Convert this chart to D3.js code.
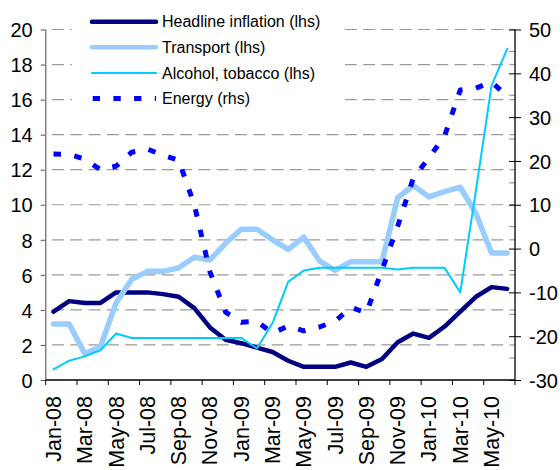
<!DOCTYPE html>
<html>
<head>
<meta charset="utf-8">
<script src="https://cdn.jsdelivr.net/npm/d3@7"></script>
<style>
  body { margin: 0; background: #fff; }
  text { font-family: "Liberation Sans", Arial, sans-serif; fill: #000; }
</style>
</head>
<body>
<script>
// monthly categories, Jan-08 .. Jun-10
const months = ["Jan-08","Feb-08","Mar-08","Apr-08","May-08","Jun-08","Jul-08","Aug-08","Sep-08","Oct-08","Nov-08","Dec-08",
                "Jan-09","Feb-09","Mar-09","Apr-09","May-09","Jun-09","Jul-09","Aug-09","Sep-09","Oct-09","Nov-09","Dec-09",
                "Jan-10","Feb-10","Mar-10","Apr-10","May-10","Jun-10"];

// lhs series
const headline = [3.9,4.5,4.4,4.4,5.0,5.0,5.0,4.9,4.75,4.1,3.0,2.3,
                  2.1,1.85,1.6,1.1,0.75,0.75,0.75,1.0,0.75,1.2,2.15,2.65,
                  2.4,3.05,3.9,4.75,5.3,5.2];
const transport = [3.2,3.2,1.5,1.9,4.4,5.75,6.2,6.2,6.4,7.0,6.85,7.8,
                   8.6,8.6,8.0,7.45,8.15,6.8,6.25,6.75,6.75,6.75,10.4,11.1,
                   10.45,10.75,11.0,9.5,7.25,7.25];
const alcohol = [0.6,1.1,1.35,1.7,2.65,2.4,2.4,2.4,2.4,2.4,2.4,2.4,
                 2.4,1.8,3.25,5.6,6.25,6.4,6.4,6.4,6.4,6.4,6.3,6.4,
                 6.4,6.4,5.0,10.8,16.8,18.9];
// rhs series
const energy = [21.6,21.5,20.4,18.0,18.8,22.0,22.7,21.3,20.2,10.0,-5.3,-14.5,
                -16.8,-16.6,-19.3,-17.7,-18.8,-17.9,-16.6,-13.4,-14.7,-4.9,5.1,16.1,
                20.7,25.7,36.2,36.6,38.0,34.8];

const leftTicks = [0,2,4,6,8,10,12,14,16,18,20];
const rightTicks = [-30,-20,-10,0,10,20,30,40,50];
const rightMinor = [-25,-15,-5,5,15,25,35,45];

const series = [
  {name: "Headline inflation (lhs)", values: headline, color: "#000080", width: 4.5, axis: "l"},
  {name: "Transport (lhs)", values: transport, color: "#99ccff", width: 5.5, axis: "l"},
  {name: "Alcohol, tobacco (lhs)", values: alcohol, color: "#00ccff", width: 2, axis: "l"},
  {name: "Energy (rhs)", values: energy, color: "#0000ff", width: 5, axis: "r", dash: "7.5,13.5"}
];

const width = 560, height = 470;
const x0 = 45.7, x1 = 515, yTop = 29.5, yBot = 380;

const svg = d3.select("body").append("svg")
    .attr("width", width)
    .attr("height", height);

const x = d3.scaleBand().domain(months).range([x0, x1]);
const xc = m => x(m) + x.bandwidth() / 2;
const yL = d3.scaleLinear().domain([0, 20]).range([yBot, yTop]);
const yR = d3.scaleLinear().domain([-30, 50]).range([yBot, yTop]);

// gridlines
svg.append("g")
  .selectAll("line")
  .data(leftTicks.filter(d => d > 0))
  .enter().append("line")
    .attr("x1", x0).attr("x2", x1)
    .attr("y1", d => yL(d)).attr("y2", d => yL(d))
    .attr("stroke", "#9a9a9a")
    .attr("stroke-width", 1.2)
    .attr("stroke-dasharray", "12,6.3")
    .attr("stroke-dashoffset", 12);

// legend background hides the gridlines behind it
svg.append("rect")
  .attr("x", 72).attr("y", 6)
  .attr("width", 273).attr("height", 106)
  .attr("fill", "#fff");

// left axis
const gl = svg.append("g").attr("transform", `translate(${x0},0)`)
  .call(d3.axisLeft(yL).tickValues(leftTicks).tickSize(5).tickPadding(8).tickFormat(d => String(d)));
gl.select(".domain").remove();
gl.selectAll(".tick line").attr("stroke", "#555");
gl.selectAll(".tick text").style("font-size", "20px").attr("dy", "0.36em");
svg.append("line").attr("x1", x0).attr("x2", x0).attr("y1", yTop).attr("y2", yBot)
  .attr("stroke", "#808080").attr("stroke-width", 1.5);

// right axis
svg.append("g").selectAll("line").data(rightMinor).enter().append("line")
  .attr("x1", x1 - 6).attr("x2", x1)
  .attr("y1", d => yR(d)).attr("y2", d => yR(d))
  .attr("stroke", "#888");
const gr = svg.append("g").attr("transform", `translate(${x1},0)`)
  .call(d3.axisRight(yR).tickValues(rightTicks).tickSize(6).tickPadding(8).tickFormat(d => String(d)));
gr.select(".domain").remove();
gr.selectAll(".tick line").attr("x1", -6).attr("stroke", "#000");
gr.selectAll(".tick text").style("font-size", "20px").attr("dy", "0.36em");
svg.append("line").attr("x1", x1).attr("x2", x1).attr("y1", yTop).attr("y2", yBot)
  .attr("stroke", "#000").attr("stroke-width", 1.3);

// x axis
svg.append("line").attr("x1", x0).attr("x2", x1).attr("y1", yBot).attr("y2", yBot)
  .attr("stroke", "#000").attr("stroke-width", 1.3);
const tickEdges = months.filter((m, i) => i % 2 === 0).map(m => x(m)).concat([x1]);
svg.append("g").selectAll("line").data(tickEdges).enter().append("line")
  .attr("x1", d => d).attr("x2", d => d)
  .attr("y1", yBot).attr("y2", yBot + 5)
  .attr("stroke", "#000");
svg.append("g").selectAll("text")
  .data(months.filter((m, i) => i % 2 === 0))
  .enter().append("text")
    .attr("transform", d => `translate(${xc(d)},396) rotate(-90)`)
    .attr("text-anchor", "end")
    .attr("dy", "0.35em")
    .style("font-size", "21.5px")
    .text(d => d);

// series lines
series.forEach(s => {
  const y = s.axis === "l" ? yL : yR;
  const line = d3.line()
      .x((d, i) => xc(months[i]))
      .y(d => y(d));
  svg.append("path")
    .datum(s.values)
    .attr("d", line)
    .attr("fill", "none")
    .attr("stroke", s.color)
    .attr("stroke-width", s.width)
    .attr("stroke-linejoin", "round")
    .attr("stroke-linecap", s.dash ? "butt" : "round")
    .attr("stroke-dasharray", s.dash || null);
});

// legend
const lg = svg.append("g").selectAll("g").data(series).enter().append("g")
  .attr("transform", (d, i) => `translate(0,${21.7 + i * 25.6})`);
lg.append("line")
  .attr("x1", d => d.dash ? 92.7 : 92).attr("x2", 156)
  .attr("stroke", d => d.color)
  .attr("stroke-width", d => d.axis === "r" ? 5 : (d.width > 3 ? 4.5 : 2))
  .attr("stroke-linecap", d => d.dash ? "butt" : "round")
  .attr("stroke-dasharray", d => d.dash ? "7.3,13.4" : null);
lg.append("text")
  .attr("x", 162).attr("dy", "0.36em")
  .style("font-size", "16px")
  .text(d => d.name);
</script>
</body>
</html>
